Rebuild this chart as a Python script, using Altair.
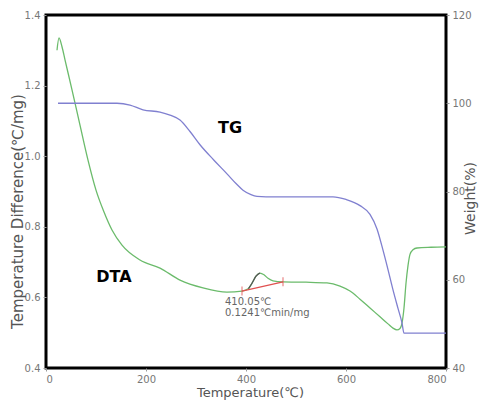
import altair as alt
import pandas as pd

# DTA curve (temperature °C, temperature difference °C/mg)
dta_t = [22, 26, 32, 38, 52, 68, 84, 100, 116, 132, 152, 188, 228, 268, 314, 362, 392,
         405, 412, 420, 428, 436, 444, 454, 474, 520, 562, 588, 608, 628, 648, 668, 684,
         694, 702, 708, 712, 716, 720, 724, 728, 734, 742, 770, 800]
dta_v = [1.30, 1.335, 1.31, 1.273, 1.188, 1.088, 0.989, 0.904, 0.842, 0.791, 0.748, 0.706,
         0.683, 0.649, 0.627, 0.615, 0.618, 0.625, 0.640, 0.660, 0.669, 0.664, 0.654, 0.647,
         0.644, 0.643, 0.641, 0.632, 0.618, 0.595, 0.570, 0.545, 0.525, 0.513, 0.508, 0.512,
         0.527, 0.570, 0.640, 0.690, 0.722, 0.735, 0.740, 0.742, 0.743]

# TG curve (temperature °C, weight %)
tg_t = [24, 100, 142, 168, 194, 228, 248, 268, 288, 308, 335, 362, 380, 394, 410, 422,
        440, 500, 574, 600, 628, 648, 662, 674, 684, 694, 704, 712, 716, 740, 800]
tg_w = [100, 100, 100, 99.6, 98.5, 98.0, 97.3, 96.2, 93.6, 90.6, 87.2, 84.0, 81.8, 80.3,
        79.3, 78.9, 78.8, 78.8, 78.8, 78.2, 76.8, 74.8, 71.5, 66.7, 62.3, 57.7, 53.5, 50.2,
        47.9, 47.9, 47.9]

# Peak onset tangent (red) and highlighted peak segment
tan_t = [392, 474]
tan_v = [0.618, 0.644]
peak_t = [405, 412, 420, 428]
peak_v = [0.625, 0.640, 0.660, 0.669]

# Labels (in temperature / DTA coordinates)
big_text = ["TG", "DTA"]
big_t = [368, 136]
big_v = [1.08, 0.658]
note_text = ["410.05℃", "0.1241℃min/mg"]
note_t = [358, 358]
note_v = [0.587, 0.556]

dta = pd.DataFrame({"T": dta_t, "v": dta_v})
tg = pd.DataFrame({"T": tg_t, "w": tg_w})
tan = pd.DataFrame({"T": tan_t, "v": tan_v})
peak = pd.DataFrame({"T": peak_t, "v": peak_v})
big = pd.DataFrame({"T": big_t, "v": big_v, "label": big_text})
note = pd.DataFrame({"T": note_t, "v": note_v, "label": note_text})

FONT = "DejaVu Sans"

x = alt.X("T:Q", scale=alt.Scale(domain=[0, 800], nice=False),
          axis=alt.Axis(values=[0, 200, 400, 600, 800], title="Temperature(℃)",
                        titleFontSize=13, titleX=204, titleY=24, titleBaseline="middle"))
yl_scale = alt.Scale(domain=[0.4, 1.4], nice=False, zero=False)
yl = alt.Y("v:Q", scale=yl_scale,
           axis=alt.Axis(values=[0.4, 0.6, 0.8, 1.0, 1.2, 1.4], format=".1f",
                         title="Temperature Difference(℃/mg)", titleFontSize=15,
                         titleX=-29, titleY=196, titleBaseline="middle"))

dta_line = alt.Chart(dta).mark_line(color="#6bbb6b", strokeWidth=1.3,
                                    interpolate="monotone").encode(x=x, y=yl)
peak_line = alt.Chart(peak).mark_line(color="#555555", strokeWidth=1.3,
                                      interpolate="monotone").encode(x="T:Q", y=yl)
tan_line = alt.Chart(tan).mark_line(color="#e05050", strokeWidth=1.2).encode(x="T:Q", y=yl)
tan_ticks = alt.Chart(tan).mark_tick(color="#e05050", orient="vertical", size=9,
                                     thickness=1.2).encode(x="T:Q", y=yl)
big_labels = alt.Chart(big).mark_text(font=FONT, fontSize=16, fontWeight="bold",
                                      color="black").encode(x="T:Q", y=yl, text="label:N")
notes = alt.Chart(note).mark_text(font=FONT, fontSize=10, color="#666666",
                                  align="left").encode(x="T:Q", y=yl, text="label:N")

left = alt.layer(dta_line, peak_line, tan_line, tan_ticks, big_labels, notes)

tg_line = alt.Chart(tg).mark_line(color="#8080d0", strokeWidth=1.3,
                                  interpolate="monotone").encode(
    x="T:Q",
    y=alt.Y("w:Q", scale=alt.Scale(domain=[40, 120], nice=False, zero=False),
            axis=alt.Axis(orient="right", values=[40, 60, 80, 100, 120], title="Weight(%)",
                          titleFontSize=14, titleAngle=270, titleX=24, titleY=183,
                          titleBaseline="middle")))

chart = alt.layer(left, tg_line).resolve_scale(y="independent").properties(
    width=400, height=353,
    autosize=alt.AutoSizeParams(type="none"),
    padding={"left": 46, "top": 15, "right": 35, "bottom": 35},
    background="white",
).configure_view(stroke="black", strokeWidth=3).configure_axis(
    domain=False, grid=False, tickColor="#999999", tickSize=3,
    labelColor="#777777", labelFont=FONT, labelFontSize=10, labelPadding=3,
    titleColor="#555555", titleFont=FONT, titleFontWeight="normal",
)

chart.save("out.html", embed_options={"renderer": "svg", "actions": False})
